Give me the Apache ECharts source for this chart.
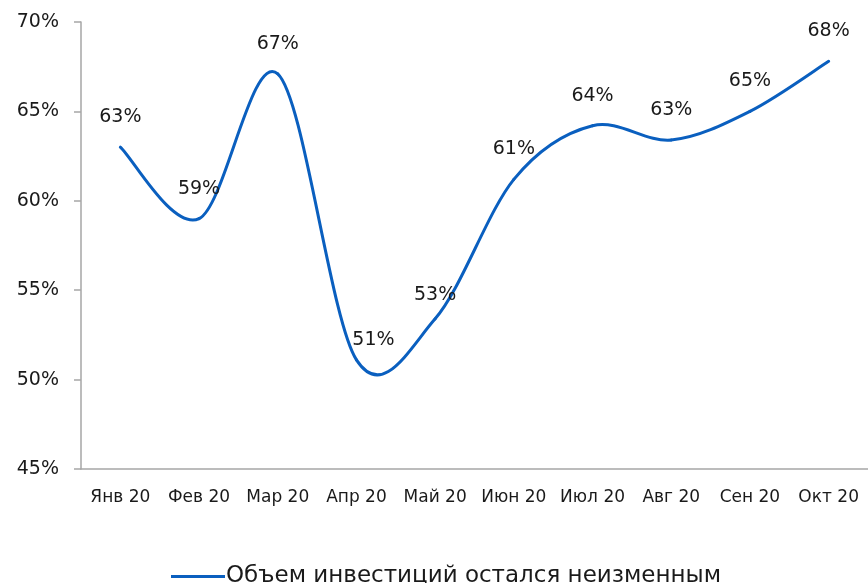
<!DOCTYPE html>
<html>
<head>
<meta charset="utf-8">
<script src="https://cdn.jsdelivr.net/npm/echarts@6/dist/echarts.min.js"></script>
<style>html,body{margin:0;padding:0;background:#fff}#c{width:868px;height:583px}</style>
</head>
<body>
<div id="c"></div>
<script>
const categories = ['Янв 20','Фев 20','Мар 20','Апр 20','Май 20','Июн 20','Июл 20','Авг 20','Сен 20','Окт 20'];
const values = [63.0, 59.0, 67.1, 51.1, 53.4, 61.2, 64.2, 63.4, 65.0, 67.8];
const labels = ['63%','59%','67%','51%','53%','61%','64%','63%','65%','68%'];
const seriesName = 'Объем инвестиций остался неизменным';
const yTicks = {min: 45, max: 70, interval: 5};

const font = 'DejaVu Sans';
const blue = '#0a5fbf';
const labelOffsets = {3: [17, 10], 4: [0, 6]};
const labelData = values.map((v, i) => {
  const d = {value: v};
  if (labelOffsets[i]) d.label = {offset: labelOffsets[i]};
  return d;
});

// Excel-style smoothed line (Catmull-Rom / Bezier), positioned through the chart's own scales
function renderCurve(params, api) {
  if (params.dataIndex !== 0) return null;
  const pts = values.map((v, i) => api.coord([i, v]));
  const n = pts.length;
  const children = [];
  for (let i = 0; i < n - 1; i++) {
    const p0 = pts[Math.max(i - 1, 0)], p1 = pts[i], p2 = pts[i + 1], p3 = pts[Math.min(i + 2, n - 1)];
    children.push({
      type: 'bezierCurve',
      shape: {
        x1: p1[0], y1: p1[1], x2: p2[0], y2: p2[1],
        cpx1: p1[0] + (p2[0] - p0[0]) / 6, cpy1: p1[1] + (p2[1] - p0[1]) / 6,
        cpx2: p2[0] - (p3[0] - p1[0]) / 6, cpy2: p2[1] - (p3[1] - p1[1]) / 6
      },
      style: {stroke: blue, lineWidth: 3, fill: null, lineCap: 'round'}
    });
  }
  return {type: 'group', children: children};
}

const chart = echarts.init(document.getElementById('c'), null, {renderer: 'canvas'});
chart.setOption({
  animation: false,
  grid: {left: 81, right: -6, top: 22, bottom: 114, containLabel: false},
  xAxis: {
    type: 'category', data: categories, boundaryGap: true,
    axisLine: {lineStyle: {color: '#a6a6a6', width: 1.5}},
    axisTick: {show: false},
    axisLabel: {color: '#1a1a1a', fontFamily: font, fontSize: 17, margin: 20, interval: 0}
  },
  yAxis: {
    type: 'value', min: yTicks.min, max: yTicks.max, interval: yTicks.interval,
    axisLine: {show: true, lineStyle: {color: '#a6a6a6', width: 1.5}},
    axisTick: {show: true, length: 7, lineStyle: {color: '#a6a6a6', width: 1.5}},
    splitLine: {show: false},
    axisLabel: {color: '#1a1a1a', fontFamily: font, fontSize: 19, margin: 22, formatter: v => v + '%'}
  },
  legend: {
    bottom: -10, left: 166,
    itemWidth: 54, itemHeight: 3, icon: 'rect', itemGap: 4,
    textStyle: {color: '#1a1a1a', fontFamily: font, fontSize: 23, padding: [0,0,0,-4]},
    data: [{name: seriesName, itemStyle: {color: blue, opacity: 1}}]
  },
  series: [
    {
      name: 'curve', type: 'custom', z: 2,
      data: values.map((v, i) => [i, v]),
      renderItem: renderCurve, silent: true
    },
    {
      name: seriesName, type: 'line', data: labelData, z: 3,
      symbol: 'circle', symbolSize: 1, showSymbol: true,
      lineStyle: {color: 'rgba(0,0,0,0)', width: 0},
      itemStyle: {color: 'rgba(0,0,0,0)', borderWidth: 0},
      label: {
        show: true, position: 'top', distance: 20,
        color: '#1a1a1a', fontFamily: font, fontSize: 19,
        formatter: p => labels[p.dataIndex]
      }
    }
  ]
});
</script>
</body>
</html>
